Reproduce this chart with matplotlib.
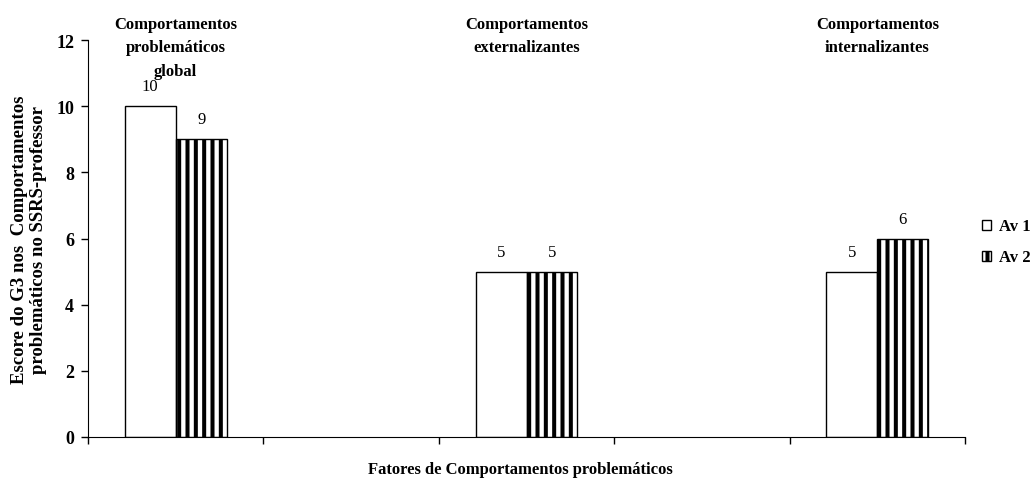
import matplotlib
matplotlib.use("Agg")
import matplotlib.pyplot as plt
import numpy as np
from matplotlib.patches import Patch
import matplotlib as mpl

categories = ["Comportamentos\nproblemáticos\nglobal",
              "Comportamentos\nexternalizantes",
              "Comportamentos\ninternalizantes"]
av1 = [10, 5, 5]
av2 = [9, 5, 6]
series_names = ["Av 1", "Av 2"]
yticks = [0, 2, 4, 6, 8, 10, 12]
xlabel = "Fatores de Comportamentos problemáticos"
ylabel = "Escore do G3 nos  Comportamentos\nproblemáticos no SSRS-professor"

plt.rcParams['font.family'] = ['Liberation Serif', 'DejaVu Serif']
mpl.rcParams['hatch.linewidth'] = 2.9

W, H = 1035, 489
fig = plt.figure(figsize=(W / 100, H / 100), dpi=100)
ax = fig.add_axes([88 / W, 1 - 438 / H, (965 - 88) / W, (438 - 41) / H])

pos = np.arange(len(categories)) * 2
w = 0.29
b1 = ax.bar(pos - w / 2, av1, width=w, color='white', edgecolor='black', linewidth=1)
b2 = ax.bar(pos + w / 2, av2, width=w, color='white', edgecolor='black', linewidth=1, hatch='||')

for bars, vals in ((b1, av1), (b2, av2)):
    for r, v in zip(bars, vals):
        ax.text(r.get_x() + r.get_width() / 2, v + 0.6, str(v), ha='center', va='center', fontsize=12)

ax.set_xlim(-0.5, 4.5)
ax.set_ylim(0, 12)

trans = mpl.transforms.blended_transform_factory(ax.transData, fig.transFigure)
for p, c in zip(pos, categories):
    ax.text(p, 1 - 17 / H, c, ha='center', va='top', fontsize=12, fontweight='bold',
            linespacing=1.62, transform=trans, clip_on=False)

ax.set_yticks(yticks)
ax.set_yticklabels([str(t) for t in yticks], fontsize=13, fontweight='bold')
ax.set_xticks(np.arange(-0.5, 4.6, 1.0))
ax.set_xticklabels([])
ax.tick_params(axis='both', direction='out', length=5, width=1, pad=5)
ax.spines['top'].set_visible(False)
ax.spines['right'].set_visible(False)

fig.text(520 / W, 1 - 470 / H, xlabel, ha='center', va='center', fontsize=12, fontweight='bold')
fig.text(29 / W, 1 - 240 / H, ylabel, ha='center', va='center', rotation=90, fontsize=13.5,
         fontweight='bold', multialignment='center', linespacing=1.1)

handles = [Patch(facecolor='white', edgecolor='black'),
           Patch(facecolor='white', edgecolor='black', hatch='||')]
leg = fig.legend(handles, series_names, loc='center left', bbox_to_anchor=(982 / W, 1 - 243 / H),
                 frameon=False, prop={'weight': 'bold', 'size': 12}, handlelength=0.55,
                 handleheight=0.55, handletextpad=0.45, labelspacing=0.9, borderpad=0,
                 borderaxespad=0)

fig.savefig("out.png", dpi=100)
